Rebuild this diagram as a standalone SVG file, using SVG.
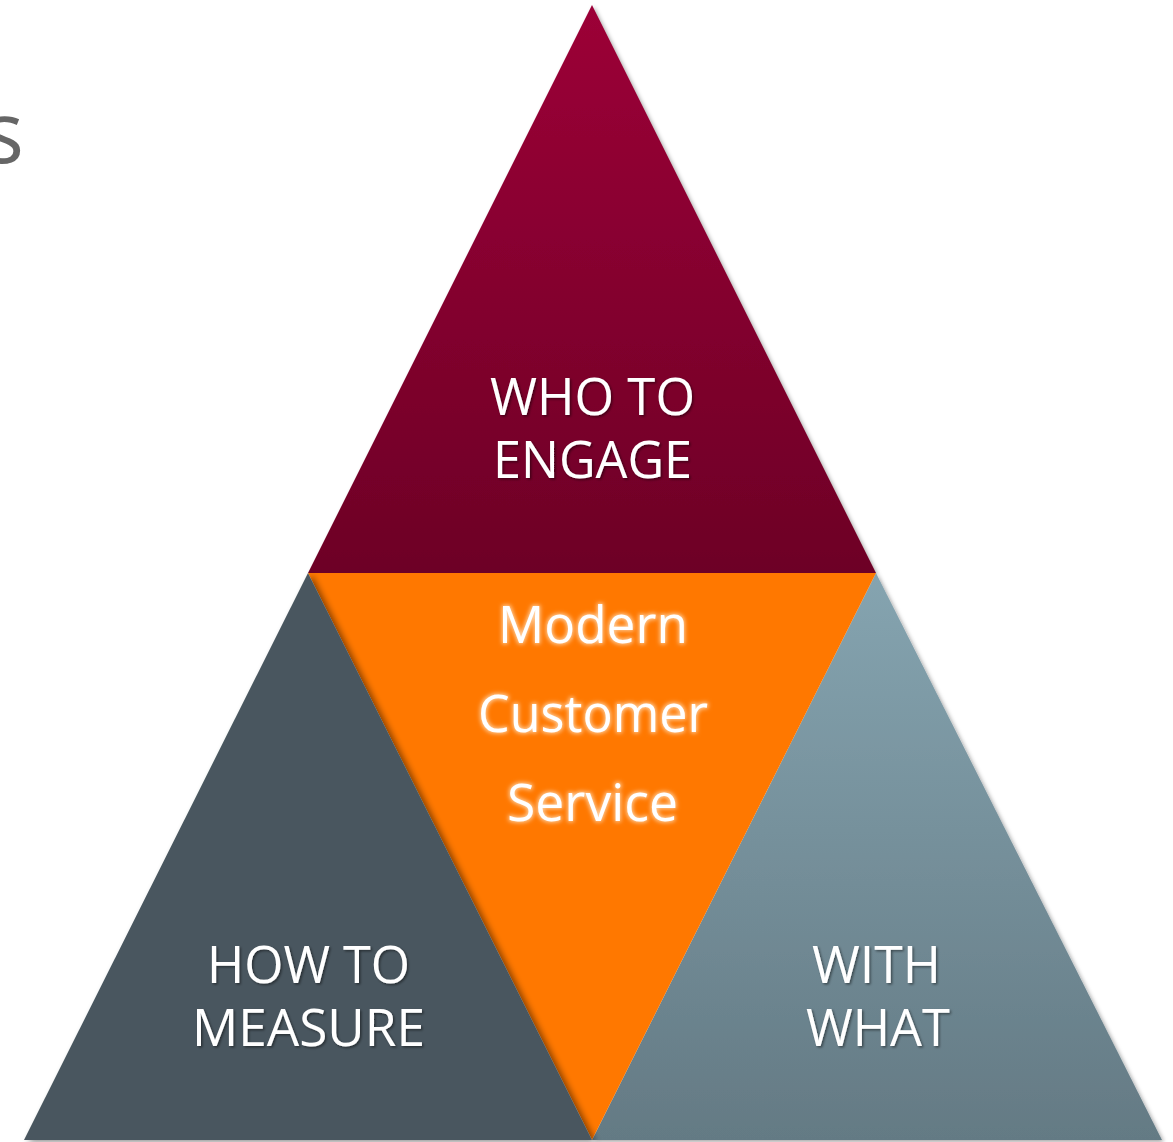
<svg xmlns="http://www.w3.org/2000/svg" width="1173" height="1142" viewBox="0 0 1173 1142">
  <defs>
    <linearGradient id="gTop" x1="0" y1="5" x2="0" y2="573" gradientUnits="userSpaceOnUse">
      <stop offset="0" stop-color="#9C0037"/>
      <stop offset="1" stop-color="#6D0026"/>
    </linearGradient>
    <linearGradient id="gRight" x1="0" y1="573" x2="0" y2="1140" gradientUnits="userSpaceOnUse">
      <stop offset="0" stop-color="#85A4B0"/>
      <stop offset="1" stop-color="#647A84"/>
    </linearGradient>
    <filter id="shadow" x="-10%" y="-10%" width="120%" height="120%">
      <feDropShadow dx="2" dy="2" stdDeviation="2" flood-color="#000" flood-opacity="0.35"/>
    </filter>
    <filter id="shadowL" x="-10%" y="-10%" width="130%" height="120%">
      <feDropShadow dx="4" dy="2" stdDeviation="3" flood-color="#000" flood-opacity="0.45"/>
    </filter>
    <filter id="tshadow" x="-10%" y="-30%" width="120%" height="160%">
      <feDropShadow dx="1.5" dy="1.5" stdDeviation="1.2" flood-color="#000" flood-opacity="0.45"/>
    </filter>
    <filter id="tglow" x="-10%" y="-30%" width="120%" height="160%">
      <feMorphology in="SourceAlpha" operator="dilate" radius="1" result="d"/>
      <feGaussianBlur in="d" stdDeviation="2" result="b"/>
      <feFlood flood-color="#FFF3E0" flood-opacity="0.7"/>
      <feComposite in2="b" operator="in" result="glow"/>
      <feMerge><feMergeNode in="glow"/><feMergeNode in="SourceGraphic"/></feMerge>
    </filter>
  </defs>
  <style>
    .lbl { font-family: "Open Sans", "Liberation Sans", sans-serif; font-size: 52px; fill: #FFFFFF; text-anchor: middle; }
    .ctr { font-family: "Open Sans", "Liberation Sans", sans-serif; font-size: 51px; fill: #FFFFFF; text-anchor: middle; }
    .side { font-family: "Open Sans", "Liberation Sans", sans-serif; font-size: 86px; fill: #666666; text-anchor: end; }
  </style>

  <text class="side" x="24" y="163">s</text>

  <g id="connectors"></g>

  <g id="node-who">
    <polygon points="592,5 876,573 308,573" fill="url(#gTop)" filter="url(#shadow)"/>
    <g filter="url(#tshadow)">
      <text class="lbl" x="592.5" y="415" textLength="205" lengthAdjust="spacingAndGlyphs">WHO TO</text>
      <text class="lbl" x="592.5" y="478" textLength="199" lengthAdjust="spacingAndGlyphs">ENGAGE</text>
    </g>
  </g>

  <g id="node-with">
    <polygon points="876,573 1162,1140 592,1140" fill="url(#gRight)" filter="url(#shadow)"/>
    <g filter="url(#tshadow)">
      <text class="lbl" x="876.5" y="983" textLength="129" lengthAdjust="spacingAndGlyphs">WITH</text>
      <text class="lbl" x="878" y="1046" textLength="144" lengthAdjust="spacingAndGlyphs">WHAT</text>
    </g>
  </g>

  <g id="node-center">
    <polygon points="308,573 876,573 592,1140" fill="#FF7800"/>
    <g filter="url(#tglow)">
      <text class="ctr" x="593" y="643" textLength="190" lengthAdjust="spacingAndGlyphs">Modern</text>
      <text class="ctr" x="593" y="732" textLength="230" lengthAdjust="spacingAndGlyphs">Customer</text>
      <text class="ctr" x="592.5" y="821" textLength="171" lengthAdjust="spacingAndGlyphs">Service</text>
    </g>
  </g>

  <g id="node-how">
    <polygon points="308,573 592,1140 24,1140" fill="#48575E" filter="url(#shadowL)"/>
    <g filter="url(#tshadow)">
      <text class="lbl" x="308.5" y="983" textLength="203" lengthAdjust="spacingAndGlyphs">HOW TO</text>
      <text class="lbl" x="308.5" y="1046" textLength="233" lengthAdjust="spacingAndGlyphs">MEASURE</text>
    </g>
  </g>
</svg>
